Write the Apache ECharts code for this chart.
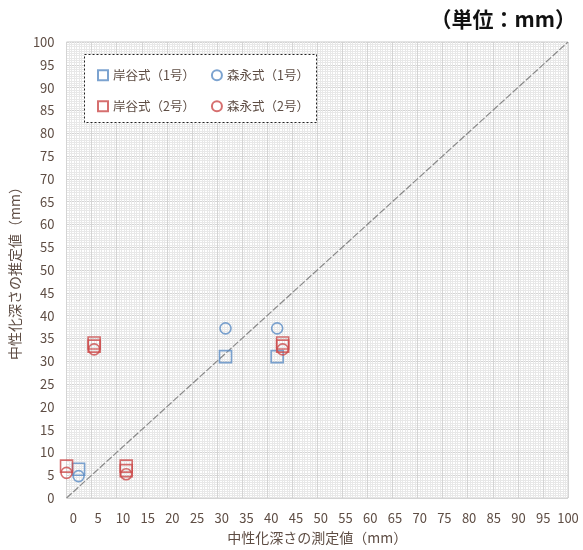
<!DOCTYPE html>
<html><head><meta charset="utf-8">
<script src="https://cdn.jsdelivr.net/npm/echarts@6/dist/echarts.min.js"></script>
<style>html,body{margin:0;padding:0;background:#fff}#c{width:583px;height:550px}</style>
</head><body><div id="c"></div>
<script>
const seriesNames = ['岸谷式（1号）', '森永式（1号）', '岸谷式（2号）', '森永式（2号）'];
const kishiya1 = [[2.4, 6.3], [31.7, 31], [42, 31]];
const morinaga1 = [[2.4, 4.8], [31.7, 37.2], [42, 37.2]];
const kishiya2 = [[0, 7], [5.5, 34], [5.5, 33.3], [11.9, 7], [11.9, 6], [43.1, 34], [43.1, 33.3]];
const morinaga2 = [[0, 5.5], [5.5, 32.6], [11.9, 5.2], [43.1, 32.6]];
const diagonal = [[0, 0], [100, 100]];
const tickValues = [0,5,10,15,20,25,30,35,40,45,50,55,60,65,70,75,80,85,90,95,100];

const BLUE = '#5b8cc4', RED = '#cc4b4b', TXT = '#5e4d44';
const FONT = 'Noto Sans CJK JP';
const chart = echarts.init(document.getElementById('c'), null, {renderer: 'canvas'});

function sc(name, data, symbol, color, size) {
  return {
    name, type: 'scatter', data, symbol, symbolSize: size,
    xAxisIndex: 0, yAxisIndex: 0,
    itemStyle: {color: 'rgba(255,255,255,0)', borderColor: color, borderWidth: 1.6},
    emphasis: {disabled: true}, z: 3
  };
}

chart.setOption({
  animation: false,
  backgroundColor: '#fff',
  textStyle: {fontFamily: FONT},
  title: {
    text: '（単位：mm）', right: 2, top: 4,
    textStyle: {fontSize: 21, fontWeight: 'bold', color: '#111', fontFamily: FONT}
  },
  grid: {left: 63, right: 15, top: 42, bottom: 51, show: true, borderColor: '#c8c8c8', borderWidth: 1, backgroundColor: '#fff'},
  legend: [
    {data: seriesNames.slice(0, 2), left: 92, top: 64, itemWidth: 10, itemHeight: 10, itemGap: 16,
     textStyle: {fontSize: 12.5, color: TXT, fontFamily: FONT}, selectedMode: false},
    {data: seriesNames.slice(2, 4), left: 92, top: 95, itemWidth: 10, itemHeight: 10, itemGap: 16,
     textStyle: {fontSize: 12.5, color: TXT, fontFamily: FONT}, selectedMode: false}
  ],
  graphic: [{
    type: 'rect', left: 84, top: 54, z: 1,
    shape: {width: 232, height: 68},
    style: {fill: '#fff', stroke: '#222', lineWidth: 1, lineDash: [2, 2]}
  }],
  xAxis: [{
    type: 'value', min: 0, max: 100, interval: 5,
    axisLine: {show: false}, axisTick: {show: false}, axisLabel: {show: false},
    splitLine: {show: true, lineStyle: {color: '#d4d4d4', width: 1}},
    minorTick: {show: false, splitNumber: 10},
    minorSplitLine: {show: true, lineStyle: {color: '#e8e8e8', width: 1}},
    name: '中性化深さの測定値（mm）', nameLocation: 'middle', nameGap: 33,
    nameTextStyle: {fontSize: 14, color: TXT, fontFamily: FONT}
  }, {
    type: 'value', min: -1.4, max: 100, position: 'bottom',
    axisLine: {show: false}, axisTick: {show: false}, splitLine: {show: false},
    axisLabel: {show: true, customValues: tickValues, fontSize: 13, color: TXT, margin: 14, fontFamily: FONT}
  }],
  yAxis: [{
    type: 'value', min: 0, max: 100, interval: 5,
    axisLine: {show: false}, axisTick: {show: false},
    axisLabel: {fontSize: 13, color: TXT, margin: 12, fontFamily: FONT},
    splitLine: {show: true, lineStyle: {color: '#d4d4d4', width: 1}},
    minorTick: {show: false, splitNumber: 10},
    minorSplitLine: {show: true, lineStyle: {color: '#e8e8e8', width: 1}},
    name: '中性化深さの推定値（mm）', nameLocation: 'middle', nameGap: 34,
    nameTextStyle: {fontSize: 14, color: TXT, fontFamily: FONT}
  }],
  series: [
    {type: 'line', data: diagonal, symbol: 'none', silent: true, z: 2,
     lineStyle: {color: '#8a8a8a', width: 1.2, type: [7, 2]}},
    sc(seriesNames[0], kishiya1, 'rect', BLUE, 12),
    sc(seriesNames[1], morinaga1, 'circle', BLUE, 11),
    sc(seriesNames[2], kishiya2, 'rect', RED, 12),
    sc(seriesNames[3], morinaga2, 'circle', RED, 11)
  ]
});
</script></body></html>
